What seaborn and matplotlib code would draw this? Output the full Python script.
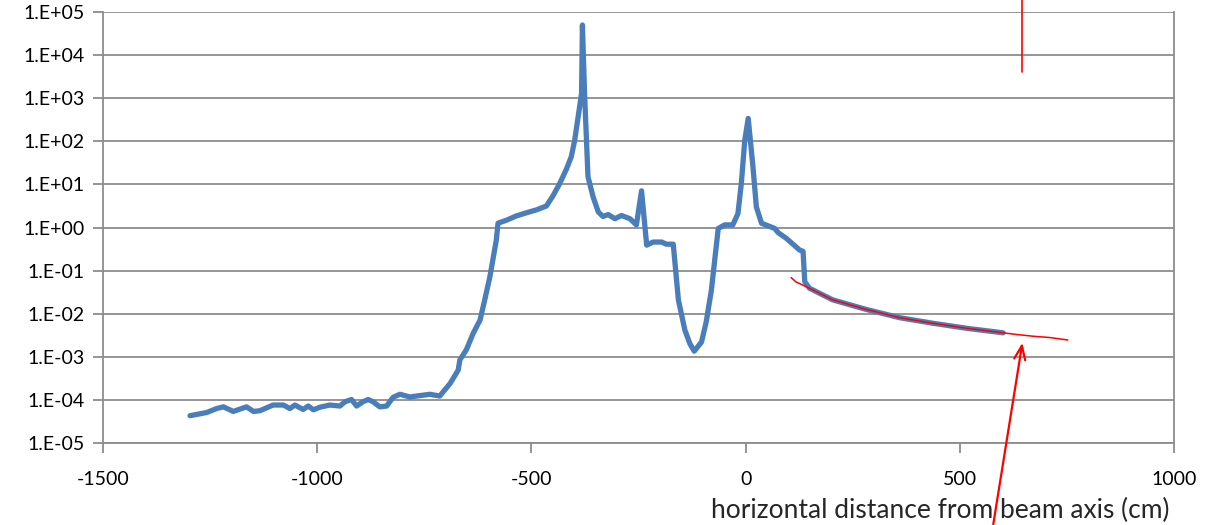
import numpy as np
import pandas as pd
import matplotlib
matplotlib.use('Agg')
import matplotlib.pyplot as plt
import seaborn as sns
from matplotlib.ticker import FuncFormatter, FixedLocator

# donnees (x en cm)
blue_x = [-1297, -1258, -1235, -1219, -1196, -1165, -1149, -1134, -1103, -1079,
          -1064, -1052, -1033, -1021, -1009, -993, -970, -947, -935, -920,
          -908, -893, -881, -870, -854, -838, -823, -807, -784, -760,
          -737, -714, -690, -671, -667, -652, -636, -620, -609, -597,
          -582, -578, -558, -535, -512, -488, -465, -449, -434, -418,
          -407, -399, -391, -383, -381, -376, -368, -356, -344, -333,
          -321, -305, -290, -270, -255, -243, -231, -216, -196, -185,
          -169, -157, -142, -130, -120, -103, -92, -80, -64, -49,
          -30, -18, -10, -2, 6, 17, 25, 37, 68, 76,
          95, 126, 134, 138, 149, 203, 281, 359, 437, 515, 601]
blue_y = [4.3e-5, 5.1e-5, 6.3e-5, 6.9e-5, 5.4e-5, 6.9e-5, 5.4e-5, 5.6e-5, 7.6e-5, 7.6e-5,
          6.3e-5, 7.6e-5, 6.0e-5, 7.2e-5, 5.9e-5, 6.8e-5, 7.6e-5, 7.2e-5, 9.1e-5, 1.02e-4,
          7.2e-5, 9.1e-5, 1.02e-4, 9.1e-5, 6.9e-5, 7.2e-5, 1.15e-4, 1.35e-4, 1.17e-4, 1.26e-4,
          1.35e-4, 1.23e-4, 2.4e-4, 4.9e-4, 8.5e-4, 1.45e-3, 3.5e-3, 7.1e-3, 2.1e-2, 7.2e-2,
          0.51, 1.26, 1.48, 1.86, 2.19, 2.57, 3.16, 5.6, 10.5, 23,
          44, 107, 370, 1290, 5.0e4, 1290, 15, 5.1, 2.3, 1.8,
          2.0, 1.6, 1.9, 1.6, 1.15, 7.1, 0.39, 0.46, 0.46, 0.41,
          0.41, 0.021, 4.2e-3, 2.0e-3, 1.35e-3, 2.2e-3, 6.5e-3, 0.035, 0.95, 1.15,
          1.15, 2.1, 10.7, 107, 340, 26, 3.0, 1.26, 0.95, 0.76,
          0.56, 0.30, 0.28, 0.055, 0.039, 0.021, 0.0126, 0.0081, 0.0060, 0.0046, 0.0036]

# ajustement (courbe rouge)
fit_x = [106, 117, 149, 203, 281, 359, 437, 515, 601, 632, 671, 710, 752]
fit_y = [0.069, 0.055, 0.039, 0.021, 0.0126, 0.0081, 0.0060, 0.0046, 0.0036,
         0.0033, 0.0030, 0.0028, 0.00245]

x_ticks = [-1500, -1000, -500, 0, 500, 1000]
y_ticks = [1e-5, 1e-4, 1e-3, 1e-2, 1e-1, 1e0, 1e1, 1e2, 1e3, 1e4, 1e5]
x_label = 'horizontal distance from beam axis (cm)'

sns.set_style('white')
plt.rcParams['font.family'] = ['Lato', 'DejaVu Sans']
plt.rcParams['axes.unicode_minus'] = False

df_blue = pd.DataFrame({'x': blue_x, 'y': blue_y})
df_fit = pd.DataFrame({'x': fit_x, 'y': fit_y})

fig = plt.figure(figsize=(12.15, 5.25), dpi=100)
ax = fig.add_axes([0.0848, 0.1562, 0.8815, 0.8209])

sns.lineplot(data=df_blue, x='x', y='y', ax=ax, color='#4A7EBB', lw=3.8,
             estimator=None, sort=False)
sns.lineplot(data=df_fit, x='x', y='y', ax=ax, color='red', lw=1.1,
             estimator=None, sort=False)

ax.set_yscale('log')
ax.set_xlim(-1500, 1000)
ax.set_ylim(1e-5, 1e5)
ax.yaxis.set_major_locator(FixedLocator(y_ticks))
ax.yaxis.set_minor_locator(FixedLocator([]))
ax.yaxis.set_major_formatter(FuncFormatter(lambda v, p: '1.E%+03d' % int(round(np.log10(v)))))
ax.set_xticks(x_ticks)
ax.grid(axis='y', color='#8c8c8c', lw=1.3)
ax.grid(axis='x', visible=False)

for s in ['left', 'bottom', 'right']:
    ax.spines[s].set_color('#8c8c8c')
    ax.spines[s].set_linewidth(1.3)
ax.spines['top'].set_visible(False)

ax.tick_params(axis='both', which='major', direction='out', length=7, width=1.3,
               color='#8c8c8c', labelsize=14, labelcolor='black')
ax.tick_params(axis='x', pad=13)
ax.tick_params(axis='y', pad=6, left=True)
ax.tick_params(axis='x', bottom=True)
ax.set_xlabel('')
ax.set_ylabel('')

# annotations rouges
ax.plot([644, 644], [10**5.28, 10**3.61], color='red', lw=1.2, clip_on=False)
ax.annotate('', xy=(647, 10**-2.61), xytext=(577, 10**-6.95),
            arrowprops=dict(arrowstyle='->,head_length=1.0,head_width=0.4', color='red', lw=1.6),
            annotation_clip=False)

fig.text(0.7738, 0.028, x_label, ha='center', va='center', fontsize=19)

fig.savefig('out.png', dpi=100)
